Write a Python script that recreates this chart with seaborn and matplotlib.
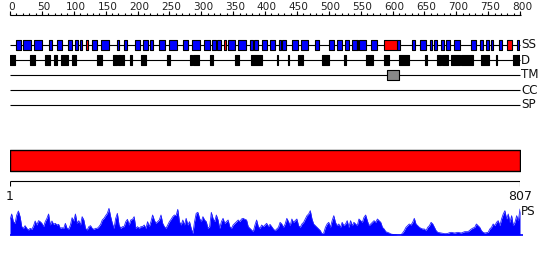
import numpy as np
import pandas as pd
import matplotlib
matplotlib.use('Agg')
import matplotlib.pyplot as plt
import seaborn as sns

# ---------------- data ----------------
seq_len = 807
ruler_max = 800
ruler_ticks = list(range(0, 801, 50))
ruler_minor = list(range(0, 801, 10))
track_labels = ['SS', 'D', 'TM', 'CC', 'SP']

helix_starts = [9, 21, 38, 61, 75, 91, 103, 111, 130, 144, 169, 181, 198, 211, 222, 236, 252,
                274, 288, 307, 320, 328, 345, 361, 380, 386, 399, 411, 425, 430, 446, 460, 483,
                504, 517, 530, 541, 552, 571, 612, 636, 649, 664, 671, 682, 690, 703, 729, 744,
                753, 761, 774, 802]
helix_ends = [17, 33, 50, 67, 82, 98, 107, 114, 138, 157, 173, 185, 206, 218, 227, 246, 264,
              282, 300, 316, 326, 334, 356, 373, 385, 393, 406, 419, 429, 437, 456, 472, 489,
              513, 526, 536, 549, 564, 581, 617, 641, 658, 667, 676, 687, 696, 712, 738, 748,
              758, 764, 779, 806]
strand_starts = [120, 339, 549, 592, 787]
strand_ends = [124, 342, 551, 612, 795]

disorder_starts = [0, 32, 55, 69, 81, 98, 138, 141, 163, 171, 178, 190, 208, 248, 285, 289,
                   316, 356, 382, 422, 440, 456, 460, 493, 502, 529, 563, 592, 616, 657, 675,
                   683, 698, 714, 746, 769, 796]
disorder_ends = [8, 40, 63, 75, 91, 104, 140, 145, 169, 176, 181, 193, 215, 253, 288, 299,
                 322, 362, 399, 424, 441, 459, 463, 501, 505, 532, 574, 599, 631, 660, 682,
                 693, 712, 733, 758, 771, 807]

tm_starts = [596]
tm_ends = [616]
domain_starts = [0]
domain_ends = [807]

ps_values = [45, 63, 40, 35, 60, 72, 55, 25, 20, 28, 20, 15, 20, 17, 27, 42, 30, 43, 40, 35,
             25, 40, 50, 63, 30, 42, 32, 35, 30, 32, 20, 22, 20, 35, 20, 18, 30, 52, 42, 63,
             35, 43, 30, 55, 45, 20, 15, 25, 28, 20, 17, 20, 20, 25, 32, 45, 50, 58, 65, 80,
             55, 35, 20, 50, 65, 30, 20, 25, 25, 40, 47, 30, 45, 47, 55, 20, 25, 20, 25, 25,
             30, 20, 40, 25, 40, 60, 45, 35, 40, 45, 60, 35, 25, 20, 30, 40, 47, 55, 60, 58,
             77, 40, 30, 45, 30, 50, 30, 40, 20, 5, 40, 65, 68, 50, 40, 55, 45, 40, 20, 25,
             68, 50, 40, 60, 45, 20, 40, 50, 35, 40, 45, 25, 20, 30, 35, 40, 45, 40, 48, 50,
             47, 45, 25, 20, 15, 10, 30, 45, 25, 20, 30, 25, 30, 35, 25, 32, 25,
             18, 13, 18, 23, 38, 33, 23, 33, 50, 40, 28, 48, 38, 43, 48, 28, 23, 33, 38, 48,
             58, 63, 73, 48, 33, 28, 23, 18, 13, 3, 6, 23, 33, 38, 23, 43, 58, 38, 28, 33,
             23, 38, 28, 33, 43, 23, 43, 28, 38, 33, 28, 48, 43, 38, 53, 60, 43, 28, 33, 38,
             43, 38, 48, 43, 38, 23, 18, 10, 8, 6, 3, 2, 1, 1, 0, 0, 0, 6, 13, 23,
             28, 33, 30, 38, 50, 33, 28, 23, 20, 18, 18, 13, 23, 28, 38, 33, 23, 13, 8, 7,
             6, 5, 4, 4, 5, 7, 8, 7, 6, 7, 8, 7, 6, 8, 10, 10, 10, 14, 18, 21,
             23, 33, 28, 23, 13, 8, 6, 7, 8, 18, 23, 33, 28, 38, 43, 28, 48, 63, 73, 48,
             63, 38, 58, 28, 38, 58, 43, 78]

# ---------------- style ----------------
sns.set_theme(style='white')
plt.rcParams['font.family'] = ['DejaVu Sans']

W, H = 550, 260
fig = plt.figure(figsize=(W / 100, H / 100), dpi=100)


def px_axes(x0, y0, x1, y1):
    return fig.add_axes([x0 / W, 1 - y1 / H, (x1 - x0) / W, (y1 - y0) / H])


ax = px_axes(10, 0, 520, 260)
ax.set_xlim(0, seq_len)
ax.set_ylim(260, 0)
ax.axis('off')

LW = 0.8
rows = {'SS': 45, 'D': 60, 'TM': 75, 'CC': 90, 'SP': 105}
half = 5.3
TXT = '#111111'

# top ruler (its own 0..800 scale across the same width)
axr = px_axes(10, 0, 520, 20)
axr.set_xlim(0, ruler_max)
axr.set_ylim(20, 0)
axr.axis('off')
axr.hlines(15, 0, ruler_max + 2, color='black', lw=LW, clip_on=False)
axr.vlines(ruler_minor, 12.6, 15, color='black', lw=LW, clip_on=False)
axr.vlines(ruler_ticks, 11.3, 15, color='black', lw=LW, clip_on=False)
for t in ruler_ticks:
    axr.text(t + 3.0, 10.2, str(t), ha='center', va='baseline', fontsize=7.6, color='#222222',
             clip_on=False)

# track lines
for name in track_labels:
    y = rows[name]
    ax.hlines(y, 0, seq_len, color='black', lw=LW, zorder=1, clip_on=False)
    ax.text(seq_len + 1.5, y, name, ha='left', va='center', fontsize=8.6, color=TXT,
            clip_on=False)


def boxes(starts, ends, y, color, h=half):
    ax.broken_barh([(s, e - s) for s, e in zip(starts, ends)], (y - h, 2 * h),
                   facecolors=color, edgecolors='black', linewidth=LW, zorder=3)


boxes(helix_starts, helix_ends, rows['SS'], '#0000ff')
boxes(strand_starts, strand_ends, rows['SS'], '#ff0000')
boxes(disorder_starts, disorder_ends, rows['D'], '#000000')
boxes(tm_starts, tm_ends, rows['TM'], '#888888')

# domain bar
ax.broken_barh([(s, e - s) for s, e in zip(domain_starts, domain_ends)], (150, 20.5),
               facecolors='#ff0000', edgecolors='black', linewidth=1.0, zorder=3)

# bottom ruler
ax.hlines(181, 0, seq_len, color='black', lw=LW)
ax.vlines([0, seq_len], 181, 186, color='black', lw=LW)
ax.text(0, 196, '1', ha='center', va='center', fontsize=9, color=TXT, clip_on=False)
ax.text(seq_len, 196, str(seq_len), ha='center', va='center', fontsize=9, color=TXT,
        clip_on=False)
ax.text(seq_len + 1.5, 211.5, 'PS', ha='left', va='center', fontsize=8.6, color=TXT,
        clip_on=False)

# PS profile
axp = px_axes(10, 205, 520, 235)
axp.set_xlim(0, seq_len)
axp.set_ylim(0, 90)
axp.axis('off')
pos = np.linspace(0, seq_len, len(ps_values))
df = pd.DataFrame({'pos': pos, 'ps': ps_values})
axp.fill_between(df['pos'], 0, df['ps'], color='#0000ff', lw=0)
sns.lineplot(data=df, x='pos', y='ps', ax=axp, color='#2020ff', lw=0.6, legend=False)
axp.hlines(0.8, 0, seq_len + 5, color='#0000ff', lw=1.2, clip_on=False)

fig.savefig('out.png', dpi=100)
